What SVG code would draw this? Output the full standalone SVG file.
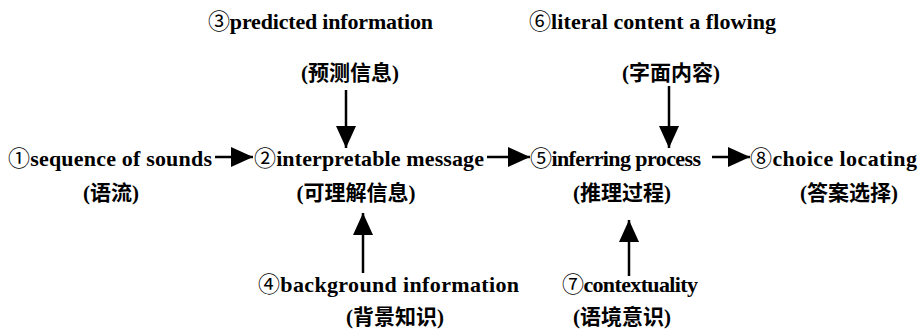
<svg xmlns="http://www.w3.org/2000/svg" width="919" height="332" viewBox="0 0 919 332">
<defs>
<marker id="ah" viewBox="0 0 22 20" refX="22" refY="10" markerWidth="22" markerHeight="20" markerUnits="userSpaceOnUse" orient="auto">
<path d="M0,0 L22,10 L0,20 z" fill="#000"/>
</marker>
<style>
.en{font-family:"Liberation Serif","Noto Sans CJK SC",serif;font-weight:bold;font-size:22px;fill:#000}
.d{font-family:"Noto Sans CJK SC","DejaVu Sans",sans-serif;font-weight:normal}
.zh{font-family:"Liberation Serif","Noto Sans CJK SC",sans-serif;font-weight:bold;font-size:21px;fill:#000;text-anchor:middle}
.c{stroke:#000;stroke-width:2.5;fill:none;marker-end:url(#ah)}
</style>
</defs>
<rect width="919" height="332" fill="#fff"/>
<g id="n1"><text class="en" x="8" y="166" textLength="204"><tspan class="d">①</tspan>sequence of sounds</text><text class="zh" x="111" y="200">(语流)</text></g>
<g id="n2"><text class="en" x="254" y="166" textLength="230"><tspan class="d">②</tspan>interpretable message</text><text class="zh" x="356" y="200">(可理解信息)</text></g>
<g id="n3"><text class="en" x="208" y="29" textLength="225"><tspan class="d">③</tspan>predicted information</text><text class="zh" x="350" y="80">(预测信息)</text></g>
<g id="n4"><text class="en" x="258" y="292" textLength="261"><tspan class="d">④</tspan>background information</text><text class="zh" x="395" y="324">(背景知识)</text></g>
<g id="n5"><text class="en" x="530" y="166" textLength="171"><tspan class="d">⑤</tspan>inferring process</text><text class="zh" x="622" y="200">(推理过程)</text></g>
<g id="n6"><text class="en" x="529" y="29" textLength="247"><tspan class="d">⑥</tspan>literal content a flowing</text><text class="zh" x="671" y="80">(字面内容)</text></g>
<g id="n7"><text class="en" x="562" y="292" textLength="136"><tspan class="d">⑦</tspan>contextuality</text><text class="zh" x="622" y="324">(语境意识)</text></g>
<g id="n8"><text class="en" x="750" y="166" textLength="167"><tspan class="d">⑧</tspan>choice locating</text><text class="zh" x="849" y="200">(答案选择)</text></g>
<g id="connectors">
<line class="c" x1="215" y1="157" x2="253" y2="157"/>
<line class="c" x1="487" y1="157" x2="530" y2="157"/>
<line class="c" x1="712" y1="157" x2="750" y2="157"/>
<line class="c" x1="346" y1="90" x2="346" y2="148"/>
<line class="c" x1="669" y1="86" x2="669" y2="148"/>
<line class="c" x1="363" y1="273" x2="363" y2="213"/>
<line class="c" x1="629" y1="276" x2="629" y2="220"/>
</g>
</svg>
